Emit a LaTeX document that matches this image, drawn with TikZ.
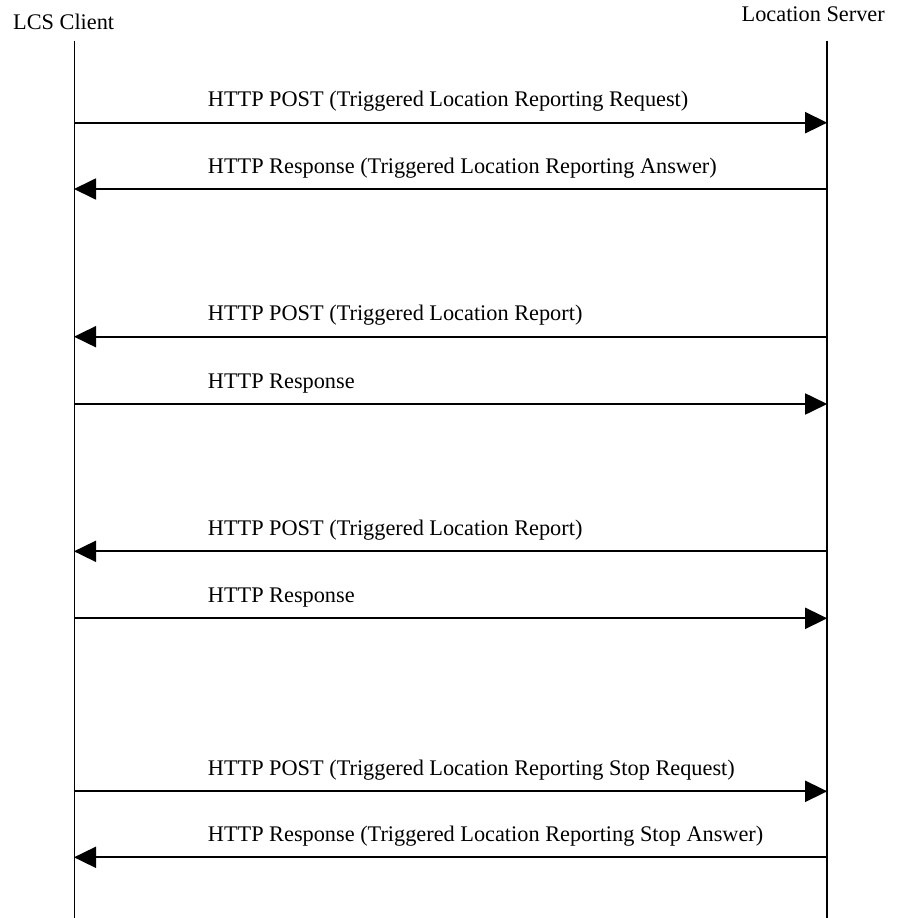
\documentclass[tikz,border=0pt]{standalone}
\usepackage{fontspec}
\setmainfont{Liberation Serif}
\usetikzlibrary{arrows.meta}

\tikzset{
  lifeline/.style={line width=1.8pt, black},
  msg/.style={line width=1.8pt, black, -{Triangle[length=22pt,width=21pt]}, shorten >=-0.5pt},
  msglabel/.style={anchor=base west, inner sep=0pt, font=\fontsize{22.3}{26}\selectfont},
  actor/.style={anchor=base west, inner sep=0pt, font=\fontsize{22.3}{26}\selectfont}
}

\begin{document}
\begin{tikzpicture}[x=1pt, y=-1pt]
  \useasboundingbox (0,0) rectangle (897,918);

  % participants
  \node[actor] (client) at (13,29.3) {LCS Client};
  \node[actor] (server) at (741.5,21.7) {Location Server};

  % lifelines
  \coordinate (ctop) at (74.5,40.5);
  \coordinate (cbot) at (74.5,918);
  \coordinate (stop) at (826.7,40.5);
  \coordinate (sbot) at (826.7,918);
  \draw[lifeline] (ctop) -- (cbot);
  \draw[lifeline] (stop) -- (sbot);

  % message levels on both lifelines
  \foreach \i/\y in {1/122.7, 2/189, 3/336.7, 4/404, 5/551.3, 6/618.3, 7/791.3, 8/857.3} {
    \coordinate (c\i) at (74.5,\y);
    \coordinate (s\i) at (826.7,\y);
    \coordinate (l\i) at (207.7,\y-16);
  }

  % messages
  \draw[msg] (c1) -- (s1);
  \node[msglabel] (t1) at (l1) {HTTP POST (Triggered Location Reporting Request)};
  \draw[msg] (s2) -- (c2);
  \node[msglabel] (t2) at (l2) {HTTP Response (Triggered Location Reporting Answer)};

  \draw[msg] (s3) -- (c3);
  \node[msglabel] (t3) at (l3) {HTTP POST (Triggered Location Report)};
  \draw[msg] (c4) -- (s4);
  \node[msglabel] (t4) at (l4) {HTTP Response};

  \draw[msg] (s5) -- (c5);
  \node[msglabel] (t5) at (l5) {HTTP POST (Triggered Location Report)};
  \draw[msg] (c6) -- (s6);
  \node[msglabel] (t6) at (l6) {HTTP Response};

  \draw[msg] (c7) -- (s7);
  \node[msglabel] (t7) at (l7) {HTTP POST (Triggered Location Reporting Stop Request)};
  \draw[msg] (s8) -- (c8);
  \node[msglabel] (t8) at (l8) {HTTP Response (Triggered Location Reporting Stop Answer)};
\end{tikzpicture}
\end{document}
